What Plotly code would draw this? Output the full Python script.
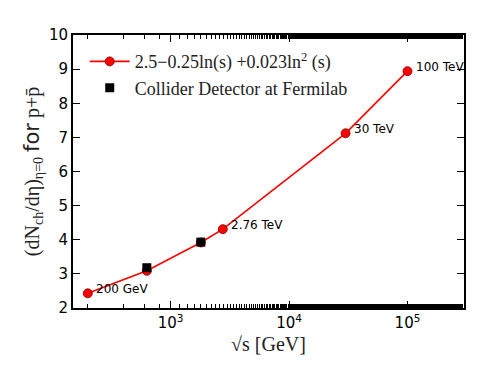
import math
import plotly.graph_objects as go

# sqrt(s) in GeV and multiplicity
fit_energy = [200, 630, 1800, 2760, 30000, 100000]
fit_mult = [2.43, 3.09, 3.92, 4.31, 7.12, 8.94]
fit_labels = ["200 GeV", "", "", "2.76 TeV", "30 TeV", "100 TeV"]

cdf_energy = [630, 1800]
cdf_mult = [3.18, 3.93]

xtick_vals = [1e3, 1e4, 1e5]
xtick_text = ["10<sup>3</sup>", "10<sup>4</sup>", "10<sup>5</sup>"]

SERIF = "Liberation Serif"
SANS = "DejaVu Sans"

fig = go.Figure()
fig.add_trace(go.Scatter(
    x=fit_energy, y=fit_mult, mode="lines+markers",
    name="2.5\u22120.25ln(s) +0.023ln<sup>2</sup> (s)",
    line=dict(color="red", width=1.6),
    marker=dict(color="red", size=9, symbol="circle",
                line=dict(color="#7a0000", width=0.8)),
))
fig.add_trace(go.Scatter(
    x=cdf_energy, y=cdf_mult, mode="markers",
    name="Collider Detector at Fermilab",
    marker=dict(color="black", size=9, symbol="square"),
))

# log axis: annotation x is given in log10 units
for xe, ye, lab in zip(fit_energy, fit_mult, fit_labels):
    if lab:
        fig.add_annotation(x=math.log10(xe), y=ye, text=lab, showarrow=False,
                           xanchor="left", yanchor="middle", xshift=6, yshift=4,
                           font=dict(family=SANS, size=12, color="black"))

# the page body adds an 8px offset, margins are shifted to compensate
fig.update_layout(
    width=488, height=368,
    margin=dict(l=65, r=32, t=27, b=68),
    paper_bgcolor="white", plot_bgcolor="white",
    showlegend=True,
    legend=dict(x=0.03, y=0.97, xanchor="left", yanchor="top",
                bgcolor="rgba(0,0,0,0)", font=dict(family=SERIF, size=18, color="#222"),
                tracegroupgap=0, itemwidth=40),
    xaxis=dict(
        type="log", range=[2.176, 5.477],
        tickvals=xtick_vals, ticktext=xtick_text,
        ticks="inside", ticklen=7, tickwidth=1.2, tickcolor="black",
        minor=dict(ticks="inside", ticklen=4, tickwidth=1, tickcolor="black", showgrid=False),
        showline=True, linecolor="black", linewidth=2, mirror="allticks",
        showgrid=False, zeroline=False,
        tickfont=dict(family=SANS, size=15, color="black"),
        title=dict(text="\u221as [GeV]", font=dict(family=SERIF, size=20, color="#222"), standoff=6),
    ),
    yaxis=dict(
        range=[2, 10], dtick=1,
        ticks="inside", ticklen=7, tickwidth=1.2, tickcolor="black",
        showline=True, linecolor="black", linewidth=2, mirror="allticks",
        showgrid=False, zeroline=False,
        tickfont=dict(family=SANS, size=15, color="black"),
        title=dict(text="(dN<sub>ch</sub>/d\u03b7)<sub>\u03b7=0</sub> "
                        "<span style='font-family:DejaVu Sans;font-size:21px'>for</span> p+p\u0304",
                   font=dict(family=SERIF, size=20, color="#222"), standoff=4),
    ),
)

fig.write_html("out.html")
